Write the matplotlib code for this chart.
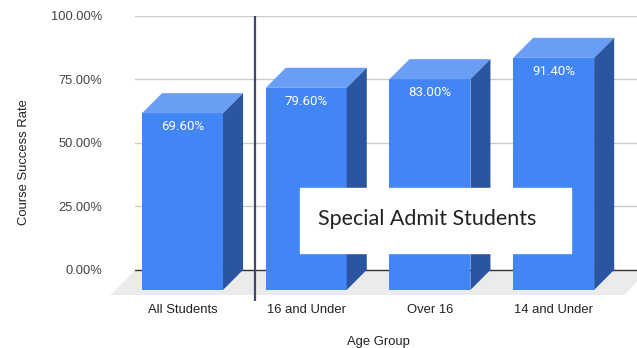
import matplotlib.pyplot as plt
from matplotlib.patches import Polygon, Rectangle

groups = ["All Students", "16 and Under", "Over 16", "14 and Under"]
success = [69.60, 79.60, 83.00, 91.40]
yticks = [0, 25, 50, 75, 100]

front_col = "#4285f4"
top_col = "#6a9ef5"
side_col = "#2b55a0"

fig = plt.figure(figsize=(6.37, 3.48), dpi=100)
ax = fig.add_axes([135 / 637, 47 / 348, 502 / 637, 285 / 348])
ax.set_xlim(-0.384, 3.674)
ax.set_ylim(-12.25, 100)

# fake 3d: depth offset of the front face relative to the value plane
dx, dy = 0.162, 7.9
w = 0.655

# floor
floor = Polygon([(-0.384, 0), (3.77, 0), (3.77 - 0.2, -9.9), (-0.584, -9.9)],
                closed=True, color="#ebebeb", lw=0, zorder=0, clip_on=False)
ax.add_patch(floor)

for y in yticks[1:]:
    ax.axhline(y, color="#cccccc", lw=1, zorder=1)
ax.axhline(0, color="#333333", lw=1, zorder=1)

for i, v in enumerate(success):
    l, r = i - w / 2, i + w / 2
    ax.add_patch(Polygon([(l, -dy), (r, -dy), (r, v - dy), (l, v - dy)],
                         closed=True, color=front_col, lw=0, zorder=3))
    ax.add_patch(Polygon([(l, v - dy), (r, v - dy), (r + dx, v), (l + dx, v)],
                         closed=True, color=top_col, lw=0, zorder=3))
    ax.add_patch(Polygon([(r, -dy), (r + dx, 0), (r + dx, v), (r, v - dy)],
                         closed=True, color=side_col, lw=0, zorder=3))
    ax.annotate(f"{v:.2f}%", (i, v - dy), xytext=(0, -9.5),
                textcoords="offset points", ha="center", va="center",
                color="white", fontsize=9.5, family="Roboto", zorder=4)

# separator between the overall group and the special admit groups
ax.axvline(0.586, color="#3d4b6b", lw=1.6, zorder=5)

ax.set_yticks(yticks)
ax.set_yticklabels([f"{t:.2f}%" for t in yticks])
ax.set_xticks(range(len(groups)))
ax.set_xticklabels(groups)
ax.tick_params(axis="y", length=0, pad=23.8, labelsize=9.3, labelcolor="#444444")
ax.tick_params(axis="x", length=0, pad=2, labelsize=9.4, labelcolor="#222222")
for lab in ax.get_xticklabels() + ax.get_yticklabels():
    lab.set_family("Liberation Sans")
for s in ax.spines.values():
    s.set_visible(False)

ax.set_xlabel("Age Group", fontsize=9.4, family="Liberation Sans", color="#222222")
ax.xaxis.set_label_coords(0.484, -0.145)
ax.xaxis.label.set_va("center")
ax.set_ylabel("Course Success Rate", fontsize=9.4, family="Liberation Sans", color="#222222")
ax.yaxis.set_label_coords(-0.222, 0.487)
ax.yaxis.label.set_va("center")

fig.patches.append(Rectangle((300 / 637, 95 / 348), 271 / 637, 65 / 348,
                             transform=fig.transFigure, color="white", zorder=10))
fig.text(318 / 637, 129 / 348, "Special Admit Students", fontsize=15.5,
         family="Lato", color="#222222", ha="left", va="center", zorder=11)

fig.savefig("out.png", dpi=100)
